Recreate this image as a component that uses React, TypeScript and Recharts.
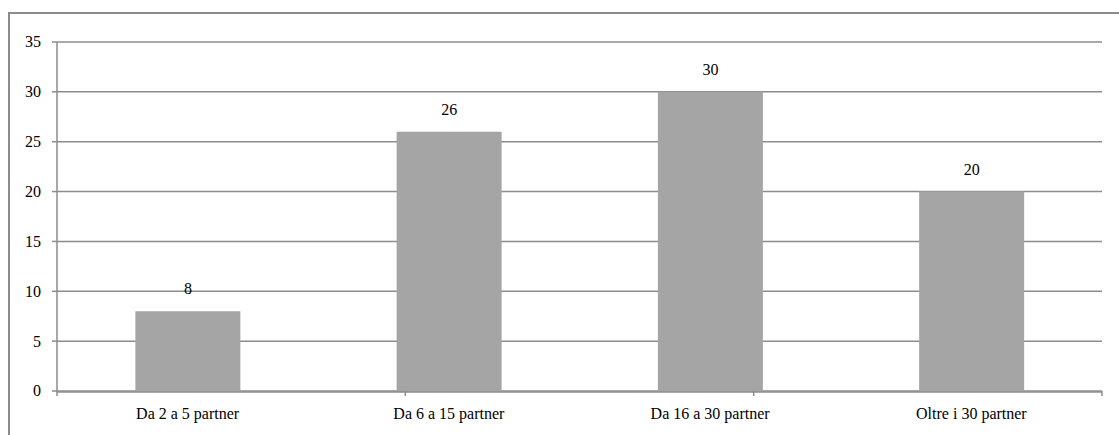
import { Bar, BarChart, CartesianGrid, LabelList, XAxis, YAxis } from 'recharts';

const categories = ['Da 2 a 5 partner', 'Da 6 a 15 partner', 'Da 16 a 30 partner', 'Oltre i 30 partner'];
const values = [8, 26, 30, 20];
const yTicks = [0, 5, 10, 15, 20, 25, 30, 35];
// band edges for the small separator ticks under the category axis
const edgeTicks = [0, 1, 2, 3, 4];

const data = categories.map((name, i) => ({ name, value: values[i] }));

const lineColor = '#8c8c8c';
const serif = 'Liberation Serif';
const fontSize = 16;

const CategoryTick = ({ x, y, payload }: any) => (
  <text x={x} y={y} dy="0.71em" textAnchor="middle" fontFamily={serif} fontSize={fontSize} fill="#000">
    {payload.value}
  </text>
);

const ValueTick = ({ x, y, payload }: any) => (
  <text x={x} y={y} dy="0.34em" textAnchor="end" fontFamily={serif} fontSize={fontSize} fill="#000">
    {payload.value}
  </text>
);

const BarValue = ({ x, y, width, value }: any) => (
  <text x={x + width / 2} y={y - 17} textAnchor="middle" fontFamily={serif} fontSize={fontSize} fill="#000">
    {value}
  </text>
);

export default function App() {
  return (
    <div
      style={{
        position: 'absolute',
        left: 0,
        top: 0,
        width: 1119,
        height: 435,
        overflow: 'hidden',
        background: '#fff',
      }}
    >
      <div
        style={{
          position: 'absolute',
          left: 8,
          top: 12,
          width: 1300,
          height: 600,
          borderTop: `2px solid ${lineColor}`,
          borderLeft: `2px solid ${lineColor}`,
        }}
      />
      <div style={{ position: 'absolute', left: 0, top: 0 }}>
        <BarChart
          width={1119}
          height={435}
          data={data}
          margin={{ top: 42, right: 17, bottom: 13, left: 0 }}
          barCategoryGap="30%"
        >
          <CartesianGrid xAxisId="aEdge" vertical={false} stroke={lineColor} strokeWidth={1.5} />
          <XAxis
            xAxisId="cat"
            dataKey="name"
            tickLine={false}
            tickSize={0}
            tickMargin={16}
            axisLine={{ stroke: lineColor, strokeWidth: 1.5 }}
            tick={<CategoryTick />}
            height={30}
          />
          <XAxis
            xAxisId="aEdge"
            type="number"
            domain={[0, 4]}
            allowDataOverflow
            ticks={edgeTicks}
            interval={0}
            tickFormatter={() => ''}
            axisLine={false}
            tickLine={{ stroke: lineColor, strokeWidth: 1.5 }}
            tickSize={5}
            height={1}
          />
          <YAxis
            domain={[0, 35]}
            ticks={yTicks}
            width={57}
            tickSize={5}
            tickMargin={11}
            tick={<ValueTick />}
            axisLine={{ stroke: lineColor, strokeWidth: 1.5 }}
            tickLine={{ stroke: lineColor, strokeWidth: 1.5 }}
          />
          <Bar xAxisId="cat" dataKey="value" fill="#a5a5a5" isAnimationActive={false}>
            <LabelList dataKey="value" content={<BarValue />} />
          </Bar>
        </BarChart>
      </div>
    </div>
  );
}
